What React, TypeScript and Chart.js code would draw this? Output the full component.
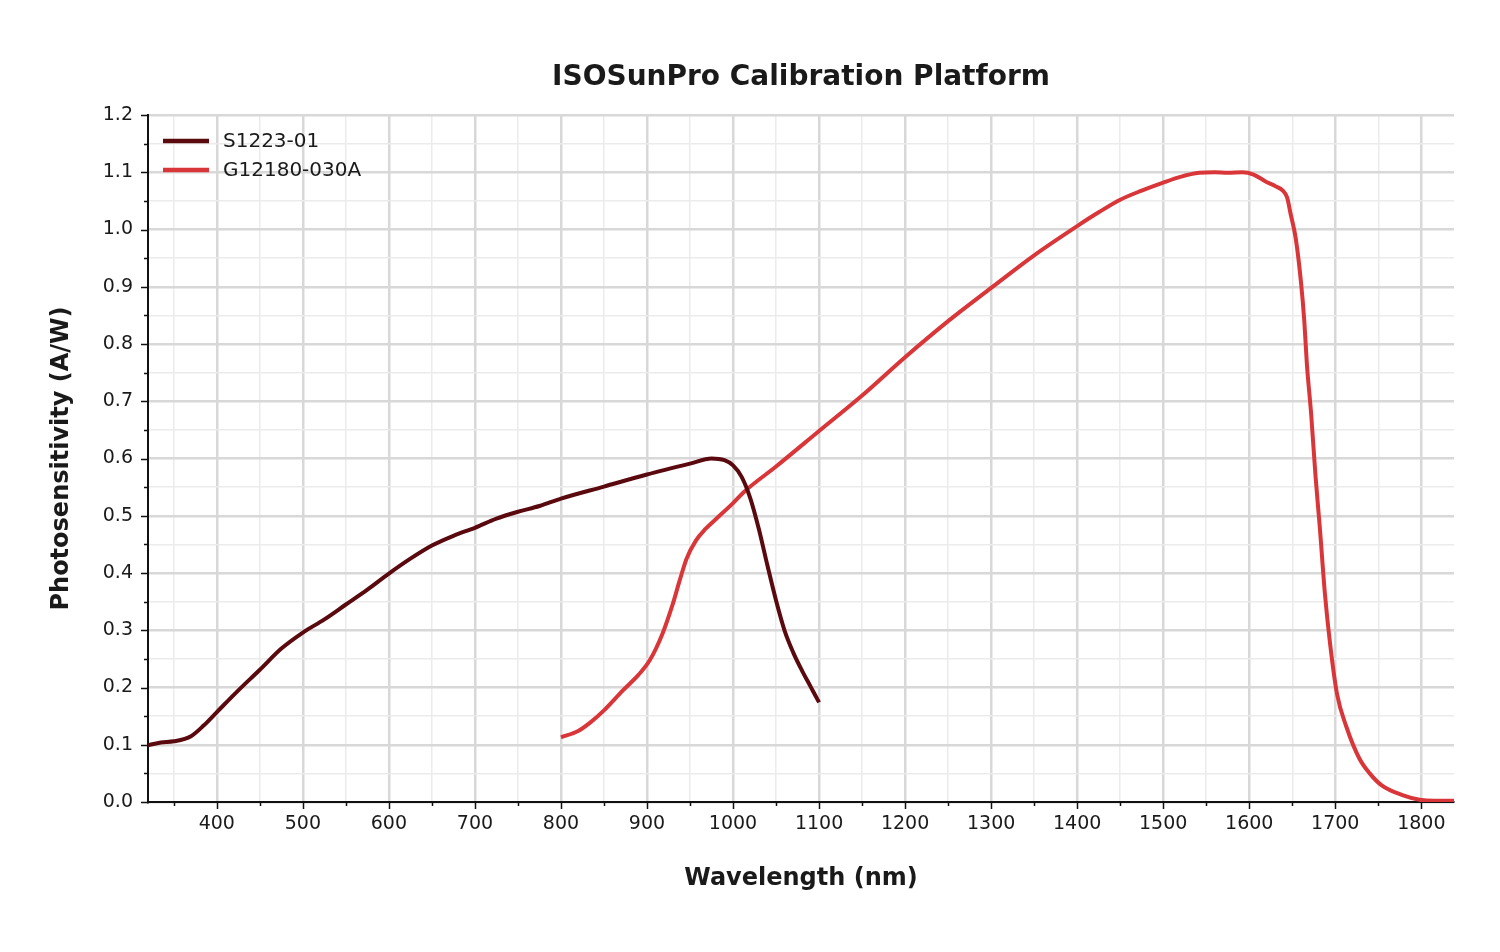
import React, { useEffect, useRef } from 'react';
import { Chart, registerables } from 'chart.js';

Chart.register(...registerables);

const chartTitle = 'ISOSunPro Calibration Platform';
const xAxisTitle = 'Wavelength (nm)';
const yAxisTitle = 'Photosensitivity (A/W)';

const s1223Label = 'S1223-01';
const s1223Wavelengths = [320, 335, 350, 370, 385, 400, 425, 450, 475, 500, 525, 550, 575, 600, 625, 650, 675, 700, 725, 750, 775, 800, 850, 900, 950, 975, 990, 1000, 1010, 1020, 1030, 1040, 1050, 1060, 1070, 1080, 1090, 1100];
const s1223Values = [0.099, 0.104, 0.106, 0.115, 0.134, 0.157, 0.195, 0.231, 0.268, 0.296, 0.319, 0.345, 0.371, 0.399, 0.425, 0.448, 0.465, 0.479, 0.495, 0.507, 0.517, 0.530, 0.551, 0.572, 0.591, 0.600, 0.597, 0.588, 0.568, 0.531, 0.477, 0.413, 0.352, 0.299, 0.261, 0.230, 0.202, 0.174];

const g12180Label = 'G12180-030A';
const g12180Wavelengths = [800, 820, 835, 850, 872, 890, 903, 918, 930, 938, 946, 957, 968, 980, 1000, 1013, 1050, 1100, 1150, 1200, 1250, 1300, 1350, 1400, 1425, 1450, 1475, 1500, 1520, 1542, 1560, 1575, 1592, 1605, 1619, 1630, 1639, 1644, 1648, 1654, 1660, 1664, 1667, 1672, 1677, 1682, 1688, 1694, 1702, 1713, 1728, 1740, 1754, 1778, 1798, 1815, 1838];
const g12180Values = [0.113, 0.124, 0.140, 0.160, 0.195, 0.222, 0.247, 0.294, 0.346, 0.387, 0.425, 0.457, 0.477, 0.494, 0.522, 0.542, 0.586, 0.648, 0.710, 0.777, 0.840, 0.898, 0.955, 1.006, 1.030, 1.052, 1.068, 1.082, 1.092, 1.099, 1.100, 1.099, 1.100, 1.096, 1.084, 1.076, 1.068, 1.056, 1.028, 0.985, 0.910, 0.840, 0.765, 0.677, 0.570, 0.480, 0.363, 0.276, 0.189, 0.131, 0.076, 0.050, 0.029, 0.012, 0.004, 0.002, 0.002];

const xMin = 320;
const xMax = 1838;
const xTickValues = [350, 400, 450, 500, 550, 600, 650, 700, 750, 800, 850, 900, 950, 1000, 1050, 1100, 1150, 1200, 1250, 1300, 1350, 1400, 1450, 1500, 1550, 1600, 1650, 1700, 1750, 1800];
const yMin = 0;
const yMax = 1.2;
const yStep = 0.05;

const darkColor = '#5a0a0e';
const redColor = '#d93639';
const textColor = '#1a1a1a';
const fontFamily = '"DejaVu Sans", Verdana, sans-serif';

const isMajorX = (v: number) => Math.abs(v % 100) < 1e-6;
const isMajorY = (v: number) => Math.abs(Math.round(v * 10) - v * 10) < 1e-6;

const toPoints = (xs: number[], ys: number[]) => xs.map((x, i) => ({ x, y: ys[i] }));

const titlePlugin = {
  id: 'customTitle',
  afterDraw(chart: any) {
    const { ctx, chartArea } = chart;
    ctx.save();
    ctx.fillStyle = textColor;
    ctx.font = `bold 28px ${fontFamily}`;
    ctx.textAlign = 'center';
    ctx.textBaseline = 'middle';
    ctx.fillText(chartTitle, (chartArea.left + chartArea.right) / 2, 78);
    ctx.restore();
  },
};

const tickMarksPlugin = {
  id: 'tickMarks',
  afterDraw(chart: any) {
    const { ctx } = chart;
    const xs = chart.scales.x;
    const ys = chart.scales.y;
    ctx.save();
    ctx.strokeStyle = '#111';
    ctx.lineWidth = 1.5;
    ctx.beginPath();
    xs.ticks.forEach((t: any) => {
      const px = Math.round(xs.getPixelForValue(t.value)) + 0.5;
      const len = isMajorX(t.value) ? 7 : 4;
      ctx.moveTo(px, ys.bottom);
      ctx.lineTo(px, ys.bottom + len);
    });
    ys.ticks.forEach((t: any) => {
      const py = Math.round(ys.getPixelForValue(t.value)) + 0.5;
      const len = isMajorY(t.value) ? 7 : 4;
      ctx.moveTo(xs.left, py);
      ctx.lineTo(xs.left - len, py);
    });
    ctx.stroke();
    ctx.restore();
  },
};

const legendPlugin = {
  id: 'customLegend',
  afterDraw(chart: any) {
    const { ctx } = chart;
    const items = chart.data.datasets;
    ctx.save();
    ctx.font = `20px ${fontFamily}`;
    ctx.textBaseline = 'middle';
    ctx.textAlign = 'left';
    items.forEach((ds: any, i: number) => {
      const y = 141 + i * 29;
      ctx.strokeStyle = ds.borderColor;
      ctx.lineWidth = 4.5;
      ctx.beginPath();
      ctx.moveTo(163, y);
      ctx.lineTo(209, y);
      ctx.stroke();
      ctx.fillStyle = textColor;
      ctx.fillText(ds.label, 223, y + 1);
    });
    ctx.restore();
  },
};

export default function App() {
  const canvasRef = useRef<HTMLCanvasElement | null>(null);

  useEffect(() => {
    document.body.style.margin = '0';
    const canvas = canvasRef.current;
    if (!canvas) return;
    const chart = new Chart(canvas, {
      type: 'line',
      data: {
        datasets: [
          {
            label: s1223Label,
            data: toPoints(s1223Wavelengths, s1223Values),
            borderColor: darkColor,
            backgroundColor: darkColor,
            borderWidth: 4,
            pointRadius: 0,
            cubicInterpolationMode: 'monotone',
            fill: false,
          },
          {
            label: g12180Label,
            data: toPoints(g12180Wavelengths, g12180Values),
            borderColor: redColor,
            backgroundColor: redColor,
            borderWidth: 4,
            pointRadius: 0,
            cubicInterpolationMode: 'monotone',
            fill: false,
          },
        ],
      },
      options: {
        responsive: false,
        animation: false,
        devicePixelRatio: 1,
        layout: { padding: { top: 115, right: 46, left: 0, bottom: 0 } },
        plugins: {
          legend: { display: false },
          title: { display: false },
          tooltip: { enabled: false },
        },
        scales: {
          x: {
            type: 'linear',
            min: xMin,
            max: xMax,
            afterBuildTicks: (scale: any) => {
              scale.ticks = xTickValues.map((v) => ({ value: v }));
            },
            afterFit: (scale: any) => {
              scale.height = 150;
            },
            ticks: {
              autoSkip: false,
              maxRotation: 0,
              padding: 11,
              color: textColor,
              font: { family: fontFamily, size: 19 },
              callback: (v: any) => (isMajorX(Number(v)) ? String(v) : ''),
            },
            grid: {
              drawTicks: false,
              color: (c: any) => (isMajorX(c.tick.value) ? '#d8d8d8' : '#ebebeb'),
              lineWidth: (c: any) => (isMajorX(c.tick.value) ? 2.5 : 1.5),
            },
            border: { display: true, color: '#111', width: 2 },
            title: {
              display: true,
              text: xAxisTitle,
              color: textColor,
              font: { family: fontFamily, size: 24, weight: 'bold' },
              padding: { top: 0, bottom: 59 },
            },
          },
          y: {
            type: 'linear',
            min: yMin,
            max: yMax,
            afterFit: (scale: any) => {
              scale.width = 148;
            },
            ticks: {
              stepSize: yStep,
              autoSkip: false,
              padding: 15,
              color: textColor,
              font: { family: fontFamily, size: 19 },
              callback: (v: any) => (isMajorY(Number(v)) ? Number(v).toFixed(1) : ''),
            },
            grid: {
              drawTicks: false,
              color: (c: any) => (isMajorY(c.tick.value) ? '#d8d8d8' : '#ebebeb'),
              lineWidth: (c: any) => (isMajorY(c.tick.value) ? 2.5 : 1.5),
            },
            border: { display: true, color: '#111', width: 2 },
            title: {
              display: true,
              text: yAxisTitle,
              color: textColor,
              font: { family: fontFamily, size: 24, weight: 'bold' },
              padding: { top: 47.6, bottom: 0 },
            },
          },
        },
      },
      plugins: [titlePlugin, tickMarksPlugin, legendPlugin],
    } as any);
    return () => chart.destroy();
  }, []);

  return (
    <div style={{ width: 1500, height: 952, background: '#fff' }}>
      <canvas ref={canvasRef} width={1500} height={952} style={{ display: 'block' }} />
    </div>
  );
}
